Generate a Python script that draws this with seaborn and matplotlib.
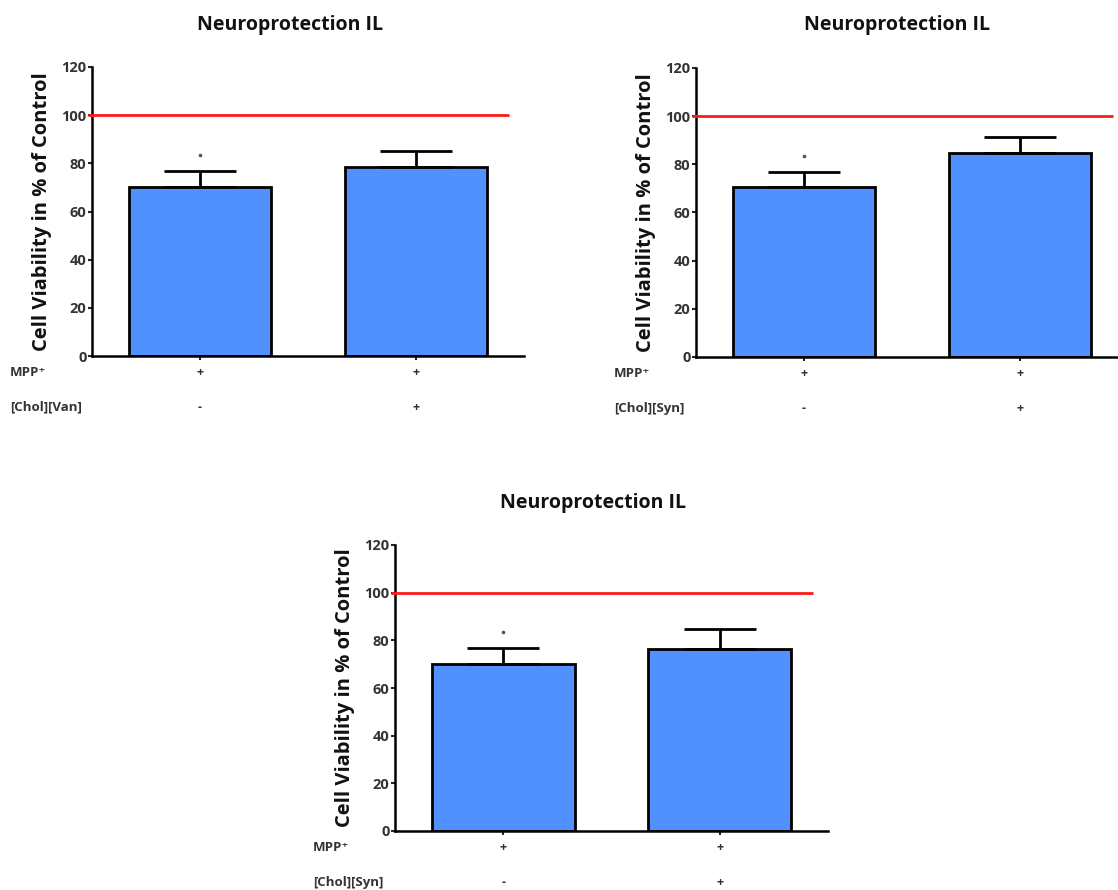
import pandas as pd
import numpy as np
import seaborn as sns
import matplotlib.pyplot as plt

sns.set_style('white')
plt.rcParams['font.family'] = ['Open Sans', 'DejaVu Sans']

# data
groups = ['ctrl', 'treated']
mpp_row = ['+', '+']

van_means = [70.1, 78.4]
van_sem = [6.8, 6.6]
van_row = ['-', '+']

syn_means = [70.4, 84.9]
syn_sem = [6.5, 6.4]
syn_row = ['-', '+']

syn2_means = [70.2, 76.4]
syn2_sem = [6.6, 8.4]
syn2_row = ['-', '+']

star_y = 83.4
control_line = 100

bar_color = '#5090FF'
tick_color = '#333333'

fig = plt.figure(figsize=(11.18, 8.90), dpi=100)
W, H = 1118, 890


def make_ax(left, top, bottom, width):
    return fig.add_axes([left / W, (H - bottom) / H, width / W, (bottom - top) / H])


def panel(ax, means, sem, row2, row2_name, title, title_x, title_y):
    df = pd.DataFrame({'group': groups, 'value': means})
    sns.barplot(data=df, x='group', y='value', color=bar_color, saturation=1,
                width=0.66, edgecolor='black', linewidth=2, errorbar=None, ax=ax)
    ax.errorbar(range(len(means)), means, yerr=[np.zeros(len(sem)), sem],
                fmt='none', ecolor='black', elinewidth=2, capsize=26, capthick=2,
                zorder=1)
    ax.hlines(control_line, -0.52, 1.43, color='#FF1A1A', lw=2, clip_on=False, zorder=5)
    ax.plot([0], [star_y], marker='o', ms=1.6, color='#555555', ls='none')

    ax.set_xlim(-0.5, 1.5)
    ax.set_ylim(0, 120)
    ax.set_yticks(range(0, 121, 20))
    ax.set_xlabel('')
    ax.set_ylabel('Cell Viability in % of Control', fontsize=14.5, fontweight='bold',
                  labelpad=7, color='#111111')
    sns.despine(ax=ax)
    for s in ['left', 'bottom']:
        ax.spines[s].set_linewidth(1.8)
        ax.spines[s].set_color('black')
    ax.tick_params(axis='y', length=3, width=1.5, labelsize=10.5, pad=1,
                   labelcolor=tick_color, left=True)
    ax.tick_params(axis='x', length=3, width=1.5, bottom=True, labelbottom=False)
    for lab in ax.get_yticklabels():
        lab.set_fontweight('bold')

    trans = ax.get_xaxis_transform()
    for i, (a, b) in enumerate(zip(mpp_row, row2)):
        ax.annotate(a, xy=(i, 0), xycoords=trans, xytext=(0, -12), textcoords='offset points',
                    ha='center', va='center', fontsize=9, fontweight='bold', color=tick_color)
        ax.annotate(b, xy=(i, 0), xycoords=trans, xytext=(0, -37), textcoords='offset points',
                    ha='center', va='center', fontsize=9, fontweight='bold', color=tick_color)
    ax.annotate('MPP⁺', xy=(0, 0), xycoords='axes fraction', xytext=(-59, -12),
                textcoords='offset points', ha='left', va='center', fontsize=9.5,
                fontweight='bold', color=tick_color)
    ax.annotate(row2_name, xy=(0, 0), xycoords='axes fraction', xytext=(-59, -37),
                textcoords='offset points', ha='left', va='center', fontsize=9.5,
                fontweight='bold', color=tick_color)

    fig.text(title_x / W, 1 - title_y / H, title, ha='center', va='center',
             fontsize=14, fontweight='bold', color='#111111')


ax1 = make_ax(92, 67, 356, 432)
panel(ax1, van_means, van_sem, van_row, '[Chol][Van]', 'Neuroprotection IL', 290, 25)

ax2 = make_ax(696, 68, 357, 432)
panel(ax2, syn_means, syn_sem, syn_row, '[Chol][Syn]', 'Neuroprotection IL', 897, 25)

ax3 = make_ax(395, 545, 831, 433)
panel(ax3, syn2_means, syn2_sem, syn2_row, '[Chol][Syn]', 'Neuroprotection IL', 593, 503)

plt.savefig('out.png', dpi=100)
